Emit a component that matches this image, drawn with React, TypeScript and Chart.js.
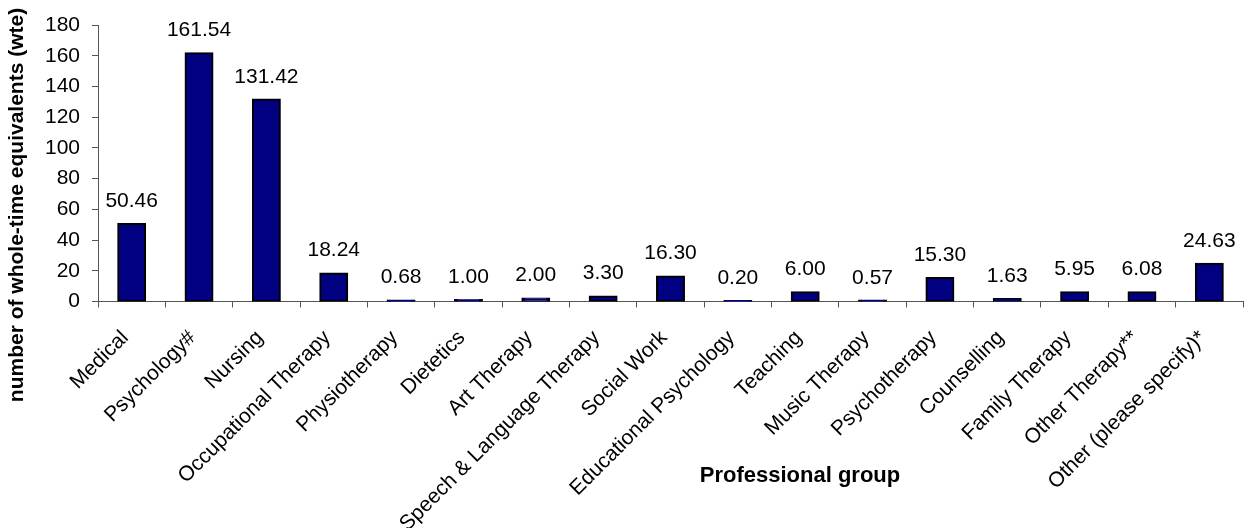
import React, { useEffect, useRef } from "react";
import { Chart, registerables } from "chart.js";

Chart.register(...registerables);

const categories = [
  "Medical",
  "Psychology#",
  "Nursing",
  "Occupational Therapy",
  "Physiotherapy",
  "Dietetics",
  "Art Therapy",
  "Speech & Language Therapy",
  "Social Work",
  "Educational Psychology",
  "Teaching",
  "Music Therapy",
  "Psychotherapy",
  "Counselling",
  "Family Therapy",
  "Other Therapy**",
  "Other (please specify)*",
];

const wteValues = [
  50.46, 161.54, 131.42, 18.24, 0.68, 1.0, 2.0, 3.3, 16.3, 0.2, 6.0, 0.57, 15.3,
  1.63, 5.95, 6.08, 24.63,
];

const yTicks = { min: 0, max: 180, step: 20 };
const xTitle = "Professional group";
const yTitle = "number of whole-time equivalents (wte)";

const FONT = "'Liberation Sans', Arial, sans-serif";

const labelsPlugin = {
  id: "valueLabels",
  afterDatasetsDraw(chart: any) {
    const ctx = chart.ctx;
    const meta = chart.getDatasetMeta(0);
    ctx.save();
    ctx.font = `21px ${FONT}`;
    ctx.fillStyle = "#000";
    ctx.textAlign = "center";
    ctx.textBaseline = "alphabetic";
    meta.data.forEach((el: any, i: number) => {
      ctx.fillText(wteValues[i].toFixed(2), el.x, el.y - 17);
    });
    ctx.restore();
  },
};

const xLabelsPlugin = {
  id: "xLabels",
  afterDraw(chart: any) {
    const ctx = chart.ctx;
    const xScale = chart.scales.x;
    ctx.save();
    ctx.font = `21px ${FONT}`;
    ctx.fillStyle = "#000";
    ctx.textAlign = "right";
    ctx.textBaseline = "middle";
    categories.forEach((label, i) => {
      const x = xScale.getPixelForValue(i);
      ctx.save();
      ctx.translate(x - 6.5, xScale.top + 33);
      ctx.rotate(-Math.PI / 4);
      ctx.fillText(label, 0, 0);
      ctx.restore();
    });
    ctx.restore();
  },
};

const titlesPlugin = {
  id: "axisTitles",
  afterDraw(chart: any) {
    const ctx = chart.ctx;
    ctx.save();
    ctx.fillStyle = "#000";
    ctx.font = `bold 22px ${FONT}`;
    ctx.textAlign = "center";
    ctx.textBaseline = "alphabetic";
    ctx.fillText(xTitle, 800, 482);
    ctx.font = `bold 21px ${FONT}`;
    ctx.translate(23, 205);
    ctx.rotate(-Math.PI / 2);
    ctx.fillText(yTitle, 0, 0);
    ctx.restore();
  },
};

export default function App() {
  const ref = useRef<HTMLCanvasElement | null>(null);

  useEffect(() => {
    document.body.style.margin = "0";
    const canvas = ref.current;
    if (!canvas) return;
    const chart = new Chart(canvas, {
      type: "bar",
      data: {
        labels: categories,
        datasets: [
          {
            data: wteValues,
            backgroundColor: "#000080",
            borderColor: "#000000",
            borderWidth: 2,
            borderSkipped: false,
            inflateAmount: 1,
            categoryPercentage: 1,
            barPercentage: 0.4,
          },
        ],
      },
      options: {
        animation: false,
        responsive: false,
        maintainAspectRatio: false,
        layout: { padding: { top: 25, right: 1, left: 0, bottom: 0 } },
        plugins: {
          legend: { display: false },
          tooltip: { enabled: false },
          title: { display: false },
        },
        scales: {
          x: {
            grid: {
              offset: true,
              drawOnChartArea: false,
              drawTicks: true,
              tickLength: 6,
              color: "#555",
            },
            border: { color: "#555", width: 1 },
            ticks: {
              display: false,
              autoSkip: false,
            },
            afterFit(scale: any) {
              scale.height = 226.5;
            },
          },
          y: {
            min: yTicks.min,
            max: yTicks.max,
            grid: {
              drawOnChartArea: false,
              drawTicks: true,
              tickLength: 6,
              color: "#555",
            },
            border: { color: "#555", width: 1 },
            ticks: {
              stepSize: yTicks.step,
              color: "#000",
              padding: 12,
              font: { family: FONT, size: 21 },
            },
            afterFit(scale: any) {
              scale.width = 98;
            },
          },
        },
      },
      plugins: [labelsPlugin, xLabelsPlugin, titlesPlugin],
    });
    return () => chart.destroy();
  }, []);

  return (
    <div style={{ position: "fixed", left: 0, top: 0, width: 1244, height: 528, background: "#fff" }}>
      <canvas ref={ref} width={1244} height={528} style={{ width: 1244, height: 528 }} />
    </div>
  );
}
